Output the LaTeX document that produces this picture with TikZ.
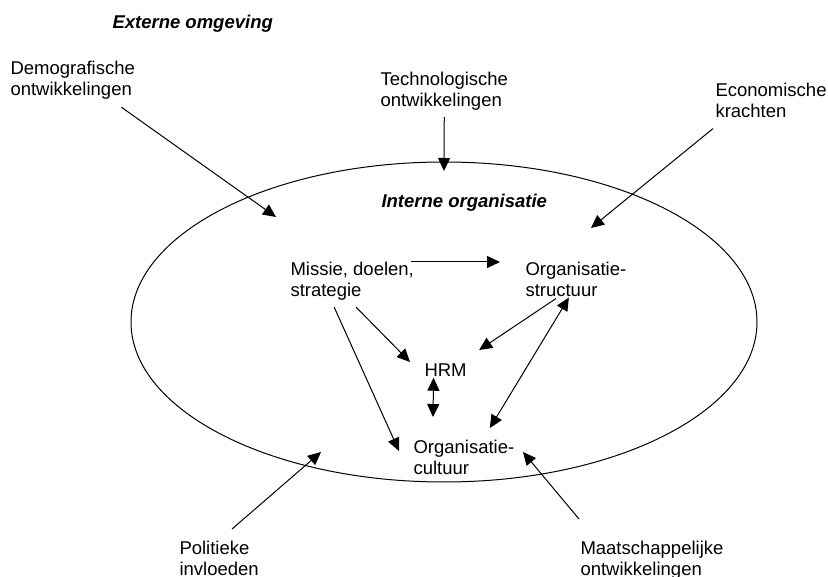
\documentclass[tikz,border=0pt]{standalone}
\usepackage{fontspec}
\setmainfont{Liberation Sans}
\usetikzlibrary{arrows.meta}

\begin{document}
\begin{tikzpicture}[x=1pt, y=-1pt, line width=1pt,
  font=\fontsize{18.5}{21}\selectfont,
  lbl/.style={anchor=north west, inner sep=0pt, align=left},
  kop/.style={lbl, font=\fontsize{18.5}{21}\selectfont\bfseries\itshape},
  pijl/.style={-{Triangle[length=13pt, width=12pt]}},
  dpijl/.style={{Triangle[length=13pt, width=12pt]}-{Triangle[length=13pt, width=12pt]}}]

  \useasboundingbox (0,0) rectangle (828,577);

  % interne organisatie
  \coordinate (org) at (444,322);
  \draw (org) ellipse [x radius=313, y radius=160];

  % omgeving
  \node[kop] (extern) at (112,15) {Externe omgeving};
  \node[lbl] (demo) at (10,61) {Demografische\\ontwikkelingen};
  \node[lbl] (tech) at (380,72) {Technologische\\ontwikkelingen};
  \node[lbl] (econ) at (715,83) {Economische\\krachten};
  \node[lbl] (pol) at (179,541) {Politieke\\invloeden};
  \node[lbl] (maat) at (580,541) {Maatschappelijke\\ontwikkelingen};

  % binnen de organisatie
  \node[kop] (intern) at (381,194) {Interne organisatie};
  \node[lbl] (missie) at (290,262) {Missie, doelen,\\strategie};
  \node[lbl] (struct) at (525,262) {Organisatie-\\structuur};
  \node[lbl] (hrm) at (424,363) {HRM};
  \node[lbl] (cult) at (413,440) {Organisatie-\\cultuur};

  % vrije pijlpunten
  \coordinate (demo-in) at (276,217);
  \coordinate (tech-in) at (444,171);
  \coordinate (econ-in) at (591,228);

  \draw[pijl] ([xshift=-14pt, yshift=-7pt]demo.south east) -- (demo-in);
  \draw[pijl] ([yshift=-6pt]tech.south) -- (tech-in);
  \draw[pijl] ([xshift=-2pt, yshift=-10pt]econ.south west) -- (econ-in);
  \draw[pijl] ([xshift=53pt, yshift=12pt]pol.north west) -- (321,452);
  \draw[pijl] ([xshift=-1pt, yshift=22pt]maat.north west) -- (523,452);

  \draw[pijl] ([xshift=-3pt]missie.north east) -- ([xshift=-25pt]struct.north west); %% missie->structuur
  \draw[pijl] ([xshift=4pt, yshift=-6pt]missie.south) -- ([xshift=-14pt, yshift=1pt]hrm.north west); %% missie->HRM
  \draw[pijl] ([xshift=-18pt, yshift=-6pt]missie.south) -- ([xshift=-14pt, yshift=-11pt]cult.north west); %% missie->cultuur
  \draw[pijl] ([xshift=-20pt, yshift=-1pt]struct.south) -- ([xshift=12pt, yshift=13pt]hrm.north east); %% structuur->HRM
  \draw[dpijl] ([xshift=-7pt]struct.south) -- ([xshift=26pt, yshift=12pt]cult.north); %% structuur<->cultuur
  \draw[dpijl] ([xshift=-12pt, yshift=-1pt]hrm.south) -- ([xshift=20pt, yshift=23pt]cult.north west); %% HRM<->cultuur
\end{tikzpicture}
\end{document}
